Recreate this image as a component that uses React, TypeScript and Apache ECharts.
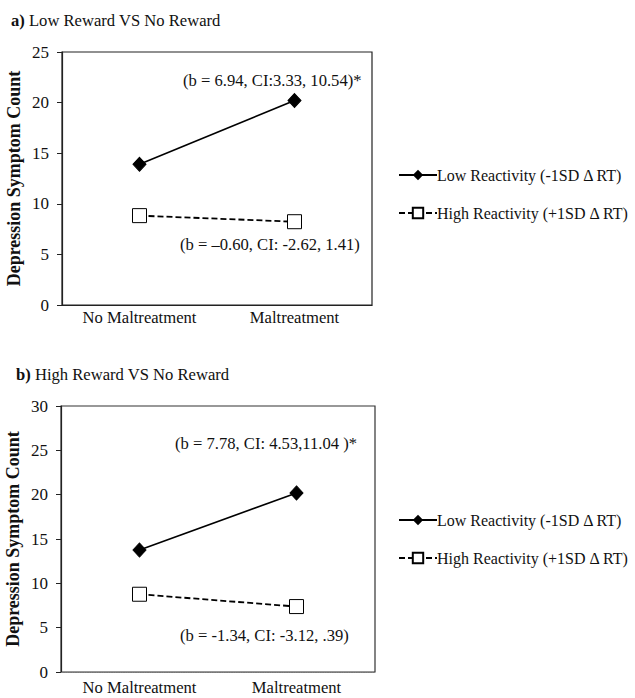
import React, { useEffect, useRef } from "react";
import * as echarts from "echarts";

const categories = ["No Maltreatment", "Maltreatment"];
const seriesNames = ["Low Reactivity (-1SD Δ RT)", "High Reactivity (+1SD Δ RT)"];
const lowA = [13.9, 20.2];
const highA = [8.83, 8.23];
const lowB = [13.76, 20.2];
const highB = [8.77, 7.38];
const yTicksA = { min: 0, max: 25, interval: 5 };
const yTicksB = { min: 0, max: 30, interval: 5 };
const annotA = ["(b = 6.94, CI:3.33, 10.54)*", "(b = –0.60, CI: -2.62, 1.41)"];
const annotB = ["(b = 7.78, CI: 4.53,11.04 )*", "(b = -1.34, CI: -3.12, .39)"];
const titleA = ["a)", " Low Reward VS No Reward"];
const titleB = ["b)", " High Reward VS No Reward"];

const FONT = "'Liberation Serif', 'Times New Roman', serif";
const FS = 16.6;

export default function App() {
  const ref = useRef<HTMLDivElement>(null);
  useEffect(() => {
    if (!ref.current) return;
    const chart = echarts.init(ref.current, null, { renderer: "svg" });
    const grids = [
      { left: 62, top: 52, width: 310, height: 253 },
      { left: 61, top: 406, width: 314, height: 266 },
    ];
    const yCfg = [yTicksA, yTicksB];
    const mkX = (i: number) => ({
      type: "category",
      gridIndex: i,
      data: categories,
      boundaryGap: true,
      axisLine: { lineStyle: { color: i === 0 ? "#222" : "#777", width: 1.2, type: i === 0 ? "solid" : "dotted" } },
      axisTick: { alignWithLabel: true, length: 4, lineStyle: { color: "#222" } },
      axisLabel: { color: "#111", fontFamily: FONT, fontSize: FS, margin: i === 0 ? 4 : 7 },
      splitLine: { show: false },
    });
    const mkY = (i: number) => ({
      type: "value",
      gridIndex: i,
      min: yCfg[i].min,
      max: yCfg[i].max,
      interval: yCfg[i].interval,
      name: "Depression Symptom Count",
      nameLocation: "middle",
      nameGap: 39,
      nameTextStyle: { fontFamily: FONT, fontSize: 18, fontWeight: "bold", color: "#111" },
      axisLine: { show: true, lineStyle: { color: "#222", width: 1.2 } },
      axisTick: { show: true, length: 5, lineStyle: { color: "#222" } },
      axisLabel: { color: "#111", fontFamily: FONT, fontSize: 17, margin: 13 },
      splitLine: { show: false },
    });
    const lowStyle = (i: number, data: number[]) => ({
      name: seriesNames[0],
      type: "line",
      xAxisIndex: i,
      yAxisIndex: i,
      data,
      symbol: "diamond",
      symbolSize: [13, 14],
      lineStyle: { color: "#000", width: 1.6, type: "solid" },
      itemStyle: { color: "#000", borderColor: "#000" },
      z: 3,
    });
    const highStyle = (i: number, data: number[]) => ({
      name: seriesNames[1],
      type: "line",
      xAxisIndex: i,
      yAxisIndex: i,
      data,
      symbol: "rect",
      symbolSize: 14,
      lineStyle: { color: "#000", width: 1.8, type: [6, 3] },
      itemStyle: { color: "#fff", borderColor: "#000", borderWidth: 1 },
      z: 3,
    });
    const mkLegend = (top: number) => ({
      orient: "vertical",
      left: 393,
      top,
      itemWidth: 38,
      itemHeight: 13,
      itemGap: 22,
      data: seriesNames,
      textStyle: { fontFamily: FONT, fontSize: 16, color: "#111", padding: [0, 0, 0, -5] },
      selectedMode: false,
    });
    const txt = (x: number, y: number, s: string) => ({
      type: "text",
      x,
      y,
      style: { text: s, fontFamily: FONT, fontSize: FS, fill: "#111", textVerticalAlign: "middle" },
    });
    const title = (x: number, y: number, t: string[]) => ({
      type: "text",
      x,
      y,
      style: {
        text: `{b|${t[0]}}{n|${t[1]}}`,
        textVerticalAlign: "middle",
        rich: {
          b: { fontFamily: FONT, fontSize: FS, fontWeight: "bold", fill: "#111", color: "#111" },
          n: { fontFamily: FONT, fontSize: FS, fill: "#111", color: "#111" },
        },
      },
    });
    chart.setOption({
      animation: false,
      backgroundColor: "#fff",
      grid: grids.map((g, i) => ({
        ...g,
        show: true,
        borderColor: i === 0 ? "#222" : "#333",
        borderWidth: 1.2,
        backgroundColor: "transparent",
      })),
      xAxis: [mkX(0), mkX(1)],
      yAxis: [mkY(0), mkY(1)],
      legend: [mkLegend(162), mkLegend(507)],
      series: [lowStyle(0, lowA), highStyle(0, highA), lowStyle(1, lowB), highStyle(1, highB)],
      graphic: [
        title(11, 20, titleA),
        title(16, 374, titleB),
        txt(183, 80, annotA[0]),
        txt(180, 244, annotA[1]),
        txt(175, 443, annotB[0]),
        txt(180, 635, annotB[1]),
      ],
    });
    return () => chart.dispose();
  }, []);
  return (
    <div
      ref={ref}
      style={{ position: "absolute", left: 0, top: 0, width: 635, height: 698, background: "#fff" }}
    />
  );
}
